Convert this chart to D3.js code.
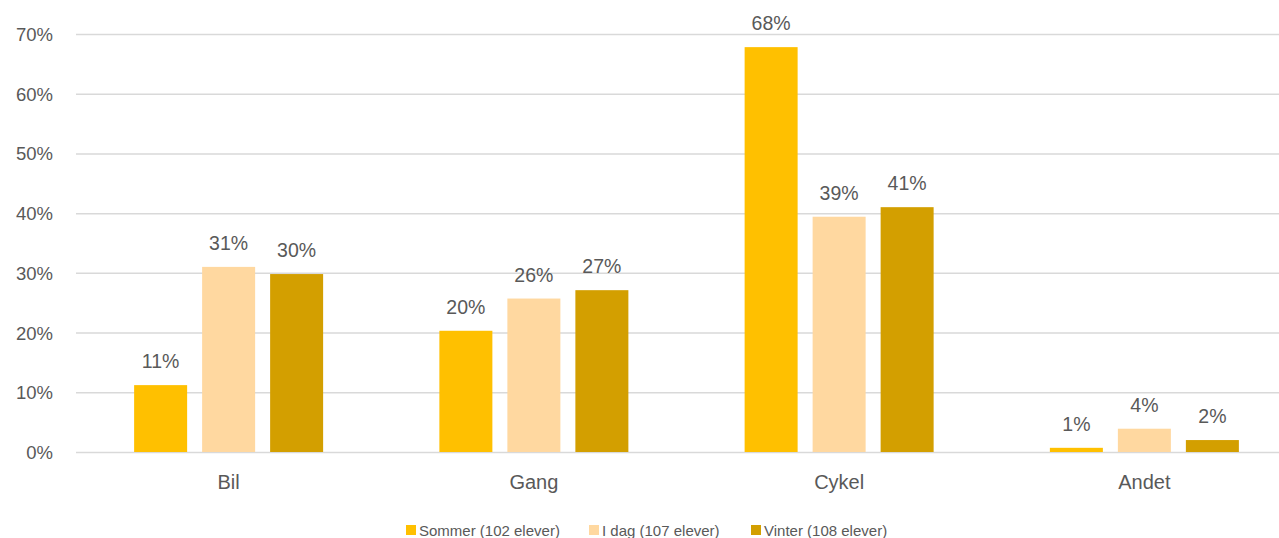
<!DOCTYPE html>
<html><head><meta charset="utf-8">
<script src="https://cdn.jsdelivr.net/npm/d3@7"></script>
<style>
html,body{margin:0;padding:0;background:#fff;overflow:hidden}
svg{display:block}
text{font-family:"Liberation Sans",Arial,sans-serif;fill:#595959}
</style></head>
<body>
<svg id="c" width="1279" height="538"></svg>
<script>
const categories = ["Bil", "Gang", "Cykel", "Andet"];
const seriesNames = ["Sommer (102 elever)", "I dag (107 elever)", "Vinter (108 elever)"];
const sommer = [11.2, 20.3, 67.8, 0.7];
const idag = [31.0, 25.7, 39.4, 3.9];
const vinter = [29.8, 27.1, 41.0, 2.0];
const sommerLabels = ["11%", "20%", "68%", "1%"];
const idagLabels = ["31%", "26%", "39%", "4%"];
const vinterLabels = ["30%", "27%", "41%", "2%"];
const yTicks = [0, 10, 20, 30, 40, 50, 60, 70];
const colors = ["#FFC000", "#FFD8A0", "#D39F00"];

const seriesValues = [sommer, idag, vinter];
const seriesLabels = [sommerLabels, idagLabels, vinterLabels];

const svg = d3.select("#c");
const y = d3.scaleLinear().domain([0, 70]).range([452, 34]);
const x0 = d3.scaleBand().domain(categories).range([76, 1297]).paddingInner(0).paddingOuter(0);
const groupW = 189;
const x1 = d3.scaleBand().domain(d3.range(seriesNames.length)).range([-groupW / 2, groupW / 2]).paddingInner(15 / 68).paddingOuter(0);

// gridlines
const gy = svg.append("g").attr("transform", "translate(76,0)")
  .call(d3.axisLeft(y).tickValues(yTicks).tickSize(-1300).tickFormat(d => d + "%"));
gy.select(".domain").remove();
gy.selectAll(".tick line").attr("stroke", "#d9d9d9").attr("stroke-width", 1.5);
gy.selectAll(".tick text").attr("x", -23).attr("dy", "0.35em")
  .style("font-size", "18.5px").attr("fill", "#595959");

// bars
seriesValues.forEach((vals, si) => {
  const g = svg.append("g");
  g.selectAll("rect").data(categories).join("rect")
    .attr("x", (c) => x0(c) + x0.bandwidth() / 2 + x1(si))
    .attr("width", x1.bandwidth())
    .attr("y", (c, i) => y(vals[i]))
    .attr("height", (c, i) => y(0) - y(vals[i]))
    .attr("fill", colors[si]);
  g.selectAll("text").data(categories).join("text")
    .attr("x", (c) => x0(c) + x0.bandwidth() / 2 + x1(si) + x1.bandwidth() / 2)
    .attr("y", (c, i) => y(vals[i]) - 17)
    .attr("text-anchor", "middle")
    .style("font-size", "19.5px")
    .text((c, i) => seriesLabels[si][i]);
});

// x axis labels
const gx = svg.append("g").attr("transform", "translate(0,452)")
  .call(d3.axisBottom(x0).tickSize(0));
gx.select(".domain").remove();
gx.selectAll(".tick text").attr("y", 37).attr("dy", 0)
  .style("font-size", "20px").attr("fill", "#595959");

// legend
const legendX = [406, 589, 751];
const lg = svg.append("g");
seriesNames.forEach((n, i) => {
  lg.append("rect").attr("x", legendX[i]).attr("y", 525).attr("width", 10).attr("height", 10).attr("fill", colors[i]);
  lg.append("text").attr("x", legendX[i] + 13).attr("y", 535.5).style("font-size", "15px").text(n);
});
</script>
</body></html>
